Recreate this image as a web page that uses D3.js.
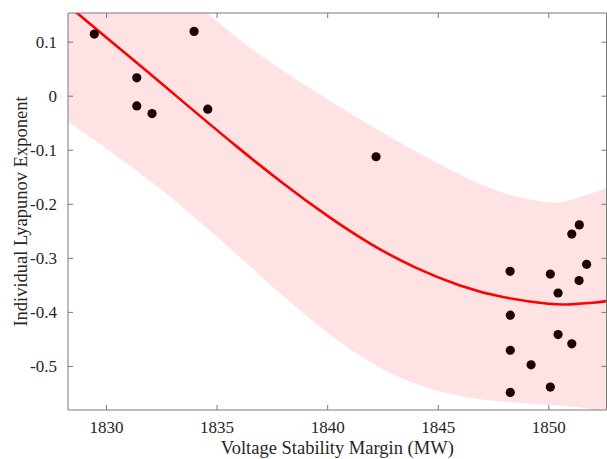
<!DOCTYPE html>
<html><head><meta charset="utf-8">
<script src="https://cdn.jsdelivr.net/npm/d3@7"></script>
<style>
html,body{margin:0;padding:0;background:#fff;}
svg{display:block;}
</style></head>
<body>
<svg id="chart" width="607" height="459"></svg>
<script>
// Scatter points
const pointX = [1829.47, 1833.98, 1831.39, 1831.39, 1832.08, 1834.60, 1842.21,
  1851.40, 1851.06, 1851.73, 1848.27, 1850.09, 1851.39, 1850.44, 1848.28,
  1850.44, 1851.06, 1848.28, 1849.22, 1850.09, 1848.28];
const pointY = [0.114, 0.119, 0.033, -0.019, -0.033, -0.025, -0.113,
  -0.239, -0.256, -0.312, -0.325, -0.330, -0.342, -0.365, -0.406,
  -0.442, -0.459, -0.471, -0.498, -0.539, -0.549];

// Fitted curve and band
const gridX = [1828.28, 1830, 1832, 1834, 1836, 1838, 1840, 1842, 1844, 1846, 1848, 1850, 1851, 1852, 1852.63];
const fitY = [0.167, 0.108, 0.040, -0.029, -0.097, -0.162, -0.222, -0.275, -0.318, -0.351, -0.373, -0.385, -0.386, -0.383, -0.380];
const bandUpper = [0.382, 0.313, 0.235, 0.171, 0.105, 0.046, -0.006, -0.056, -0.103, -0.146, -0.180, -0.197, -0.193, -0.180, -0.171];
const bandLower = [-0.048, -0.097, -0.158, -0.225, -0.297, -0.370, -0.438, -0.494, -0.533, -0.556, -0.566, -0.572, -0.575, -0.580, -0.584];

const xTicks = [1830, 1835, 1840, 1845, 1850];
const yTicks = [0.1, 0, -0.1, -0.2, -0.3, -0.4, -0.5];
const yTickLabels = ["0.1", "0", "-0.1", "-0.2", "-0.3", "-0.4", "-0.5"];

const xDomain = [1828.28, 1852.63];
const yDomain = [-0.5815, 0.153];

const margin = {left: 68, top: 13, right: 0.5, bottom: 49};
const W = 607, H = 459;
const svg = d3.select("#chart");
const x = d3.scaleLinear().domain(xDomain).range([margin.left, W - margin.right]);
const y = d3.scaleLinear().domain(yDomain).range([H - margin.bottom, margin.top]);

const font = "'Liberation Serif','Times New Roman',Times,serif";
const axisColor = "#7a7a7a";
const textColor = "#262626";

svg.append("defs").append("clipPath").attr("id", "clip")
  .append("rect").attr("x", x.range()[0]).attr("y", y.range()[1])
  .attr("width", x.range()[1] - x.range()[0]).attr("height", y.range()[0] - y.range()[1]);

const plot = svg.append("g").attr("clip-path", "url(#clip)");

// band
const area = d3.area()
  .x((d, i) => x(gridX[i]))
  .y0((d, i) => y(bandLower[i]))
  .y1((d, i) => y(bandUpper[i]))
  .curve(d3.curveNatural);
plot.append("path").datum(gridX).attr("d", area).attr("fill", "#ffe3e4").attr("stroke", "none");

// fitted curve
const line = d3.line().x((d, i) => x(gridX[i])).y((d, i) => y(fitY[i])).curve(d3.curveNatural);
plot.append("path").datum(gridX).attr("d", line).attr("fill", "none")
  .attr("stroke", "#ff0000").attr("stroke-width", 2.6);

// points
plot.selectAll("circle.pt").data(pointX).enter().append("circle")
  .attr("class", "pt")
  .attr("cx", (d) => x(d)).attr("cy", (d, i) => y(pointY[i]))
  .attr("r", 4.6).attr("fill", "#1c0203");

// axes
const tickLen = 5;
const gBottom = svg.append("g").attr("transform", `translate(0,${y.range()[0]})`)
  .call(d3.axisBottom(x).tickValues(xTicks).tickSize(-tickLen).tickPadding(11).tickFormat(d3.format("d")));
const gTop = svg.append("g").attr("transform", `translate(0,${y.range()[1]})`)
  .call(d3.axisTop(x).tickValues(xTicks).tickSize(-tickLen).tickFormat(""));
const gLeft = svg.append("g").attr("transform", `translate(${x.range()[0]},0)`)
  .call(d3.axisLeft(y).tickValues(yTicks).tickSize(-tickLen).tickPadding(11)
    .tickFormat((d, i) => yTickLabels[i]));
const gRight = svg.append("g").attr("transform", `translate(${x.range()[1]},0)`)
  .call(d3.axisRight(y).tickValues(yTicks).tickSize(-tickLen).tickFormat(""));

[gBottom, gTop, gLeft, gRight].forEach(g => {
  g.selectAll(".domain").attr("stroke", axisColor).attr("stroke-width", 1);
  g.selectAll(".tick line").attr("stroke", axisColor).attr("stroke-width", 1);
  g.selectAll(".tick text").attr("fill", textColor).style("font-family", font).style("font-size", "17px");
});
gBottom.selectAll(".domain").attr("d", `M${x.range()[0]},0H${x.range()[1]}`);
gTop.selectAll(".domain").attr("d", `M${x.range()[0]},0H${x.range()[1]}`);
gLeft.selectAll(".domain").attr("d", `M0,${y.range()[0]}V${y.range()[1]}`);
gRight.selectAll(".domain").attr("d", `M0,${y.range()[0]}V${y.range()[1]}`);

// axis titles
svg.append("text").attr("x", (x.range()[0] + x.range()[1]) / 2).attr("y", 454)
  .attr("text-anchor", "middle").attr("fill", textColor)
  .style("font-family", font).style("font-size", "18.5px")
  .text("Voltage Stability Margin (MW)");
svg.append("text")
  .attr("transform", `translate(26.5,${(y.range()[0] + y.range()[1]) / 2}) rotate(-90)`)
  .attr("text-anchor", "middle").attr("fill", textColor)
  .style("font-family", font).style("font-size", "18.5px")
  .text("Individual Lyapunov Exponent");
</script>
</body></html>
